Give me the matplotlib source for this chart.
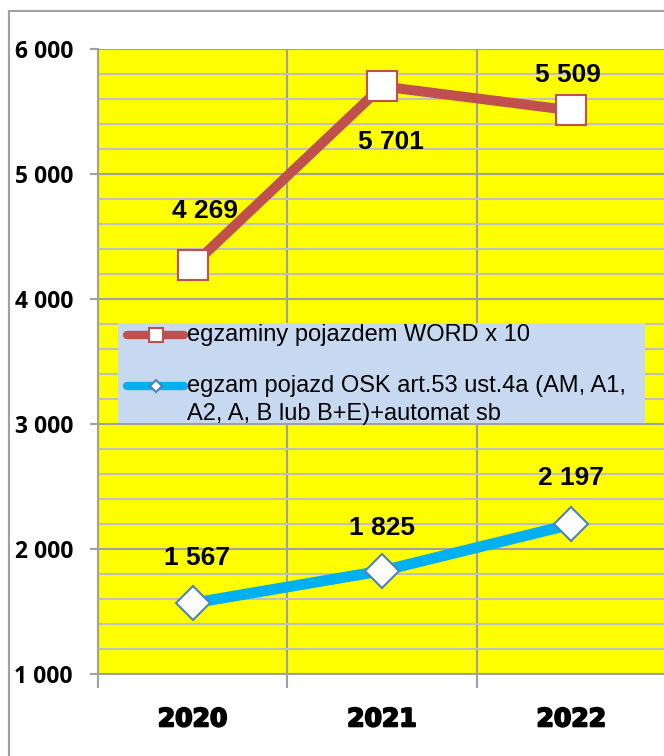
import matplotlib
matplotlib.use("Agg")
import matplotlib.pyplot as plt
from matplotlib.patches import Rectangle
from matplotlib import patheffects as pe

years = ["2020", "2021", "2022"]
word_x10 = [4269, 5701, 5509]
osk = [1567, 1825, 2197]
word_labels = ["4 269", "5 701", "5 509"]
osk_labels = ["1 567", "1 825", "2 197"]
y_ticks = [1000, 2000, 3000, 4000, 5000, 6000]
y_tick_labels = ["1 000", "2 000", "3 000", "4 000", "5 000", "6 000"]
legend_word = "egzaminy pojazdem WORD x 10"
legend_osk = ["egzam pojazd OSK art.53 ust.4a (AM, A1,", "A2, A, B lub B+E)+automat sb"]

# label offsets in pixels (style)
word_off = [(12, 54), (9, -56), (-3, 35)]
osk_off = [(4, 45), (0, 43), (0, 46)]

W, H = 664, 756
fig = plt.figure(figsize=(W / 100, H / 100), dpi=100)
fig.patch.set_facecolor("white")

def fx(px):
    return px / W

def fy(py):
    return 1 - py / H

# chart area border
fig.patches.append(Rectangle((fx(9), -0.1), 2, fy(11) + 0.1, transform=fig.transFigure,
                             fill=False, edgecolor="#A0A0A0", lw=1.5, zorder=0))

ax = fig.add_axes([fx(98), 82 / H, 568 / W, 625 / H])
ax.set_facecolor("#FFFF00")
x = list(range(len(years)))

ax.set_xlim(-0.5, 2.5)
ax.set_ylim(1000, 6000)

ax.set_yticks(y_ticks)
ax.set_yticklabels(y_tick_labels, fontfamily="Open Sans", fontweight="bold", fontsize=16.5)
ax.set_yticks(list(range(1200, 6000, 200)), minor=True)
ax.tick_params(axis="y", which="major", length=6, width=1.5, color="#A0A0A0", pad=12)
ax.tick_params(axis="y", which="minor", length=0)

ax.set_xticks([-0.5, 0.5, 1.5, 2.5])
ax.set_xticklabels([])
ax.set_xticks(x, minor=True)
ax.set_xticklabels(years, minor=True, fontfamily="DejaVu Sans", fontweight="bold", fontsize=18)
for t in ax.get_xticklabels(minor=True):
    t.set_path_effects([pe.withStroke(linewidth=1.4, foreground="black")])
ax.tick_params(axis="x", which="major", length=10, width=1.5, color="#A0A0A0")
ax.tick_params(axis="x", which="minor", length=0, pad=24)

ax.grid(True, axis="y", which="major", color="#A0A0A0", lw=1.5)
ax.grid(True, axis="y", which="minor", color="#C0C0C0", lw=1.5)
ax.grid(True, axis="x", which="major", color="#A0A0A0", lw=1.5)
ax.set_axisbelow(True)

for s in ["top", "right"]:
    ax.spines[s].set_visible(False)
for s in ["left", "bottom"]:
    ax.spines[s].set_color("#A0A0A0")
    ax.spines[s].set_linewidth(1.5)

ax.plot(x, word_x10, color="#C0504D", lw=7.2, marker="s", markersize=21.5,
        markerfacecolor="white", markeredgecolor="#C0504D", markeredgewidth=1.5,
        zorder=4, clip_on=False)
ax.plot(x, osk, color="#00B0F0", lw=7.8, marker="D", markersize=17.5,
        markerfacecolor="white", markeredgecolor="#4F81BD", markeredgewidth=1.5,
        zorder=4, clip_on=False)

for xi, v, lab, off in zip(x, word_x10, word_labels, word_off):
    ax.annotate(lab, (xi, v), xytext=off, textcoords="offset pixels",
                ha="center", va="center", fontsize=19, fontweight="bold",
                fontfamily="Liberation Sans", zorder=6)
for xi, v, lab, off in zip(x, osk, osk_labels, osk_off):
    ax.annotate(lab, (xi, v), xytext=off, textcoords="offset pixels",
                ha="center", va="center", fontsize=19, fontweight="bold",
                fontfamily="Liberation Sans", zorder=6)

# legend
ax.add_patch(Rectangle((fx(118), fy(423)), fx(645) - fx(118), fy(323) - fy(423),
                       transform=fig.transFigure, facecolor="#C6D9F1", edgecolor="none",
                       zorder=5, clip_on=False))
ax.plot([fx(127), fx(184)], [fy(335), fy(335)], transform=fig.transFigure, color="#C0504D",
        lw=6, solid_capstyle="round", zorder=6, clip_on=False)
ax.plot([fx(155.5)], [fy(335)], transform=fig.transFigure, marker="s", markersize=10.5,
        markerfacecolor="white", markeredgecolor="#C0504D", markeredgewidth=1.5,
        zorder=7, clip_on=False)
ax.plot([fx(127), fx(184)], [fy(386), fy(386)], transform=fig.transFigure, color="#00B0F0",
        lw=6, solid_capstyle="round", zorder=6, clip_on=False)
ax.plot([fx(155.5)], [fy(386)], transform=fig.transFigure, marker="D", markersize=6.5,
        markerfacecolor="white", markeredgecolor="#4F81BD", markeredgewidth=1.5,
        zorder=7, clip_on=False)
ax.text(fx(187), fy(335), legend_word, transform=fig.transFigure, fontsize=17,
        fontfamily="Liberation Sans", va="center", ha="left", zorder=7)
ax.text(fx(187), fy(386), legend_osk[0], transform=fig.transFigure, fontsize=17,
        fontfamily="Liberation Sans", va="center", ha="left", zorder=7)
ax.text(fx(187), fy(414), legend_osk[1], transform=fig.transFigure, fontsize=17,
        fontfamily="Liberation Sans", va="center", ha="left", zorder=7)

fig.savefig("out.png", dpi=100)
